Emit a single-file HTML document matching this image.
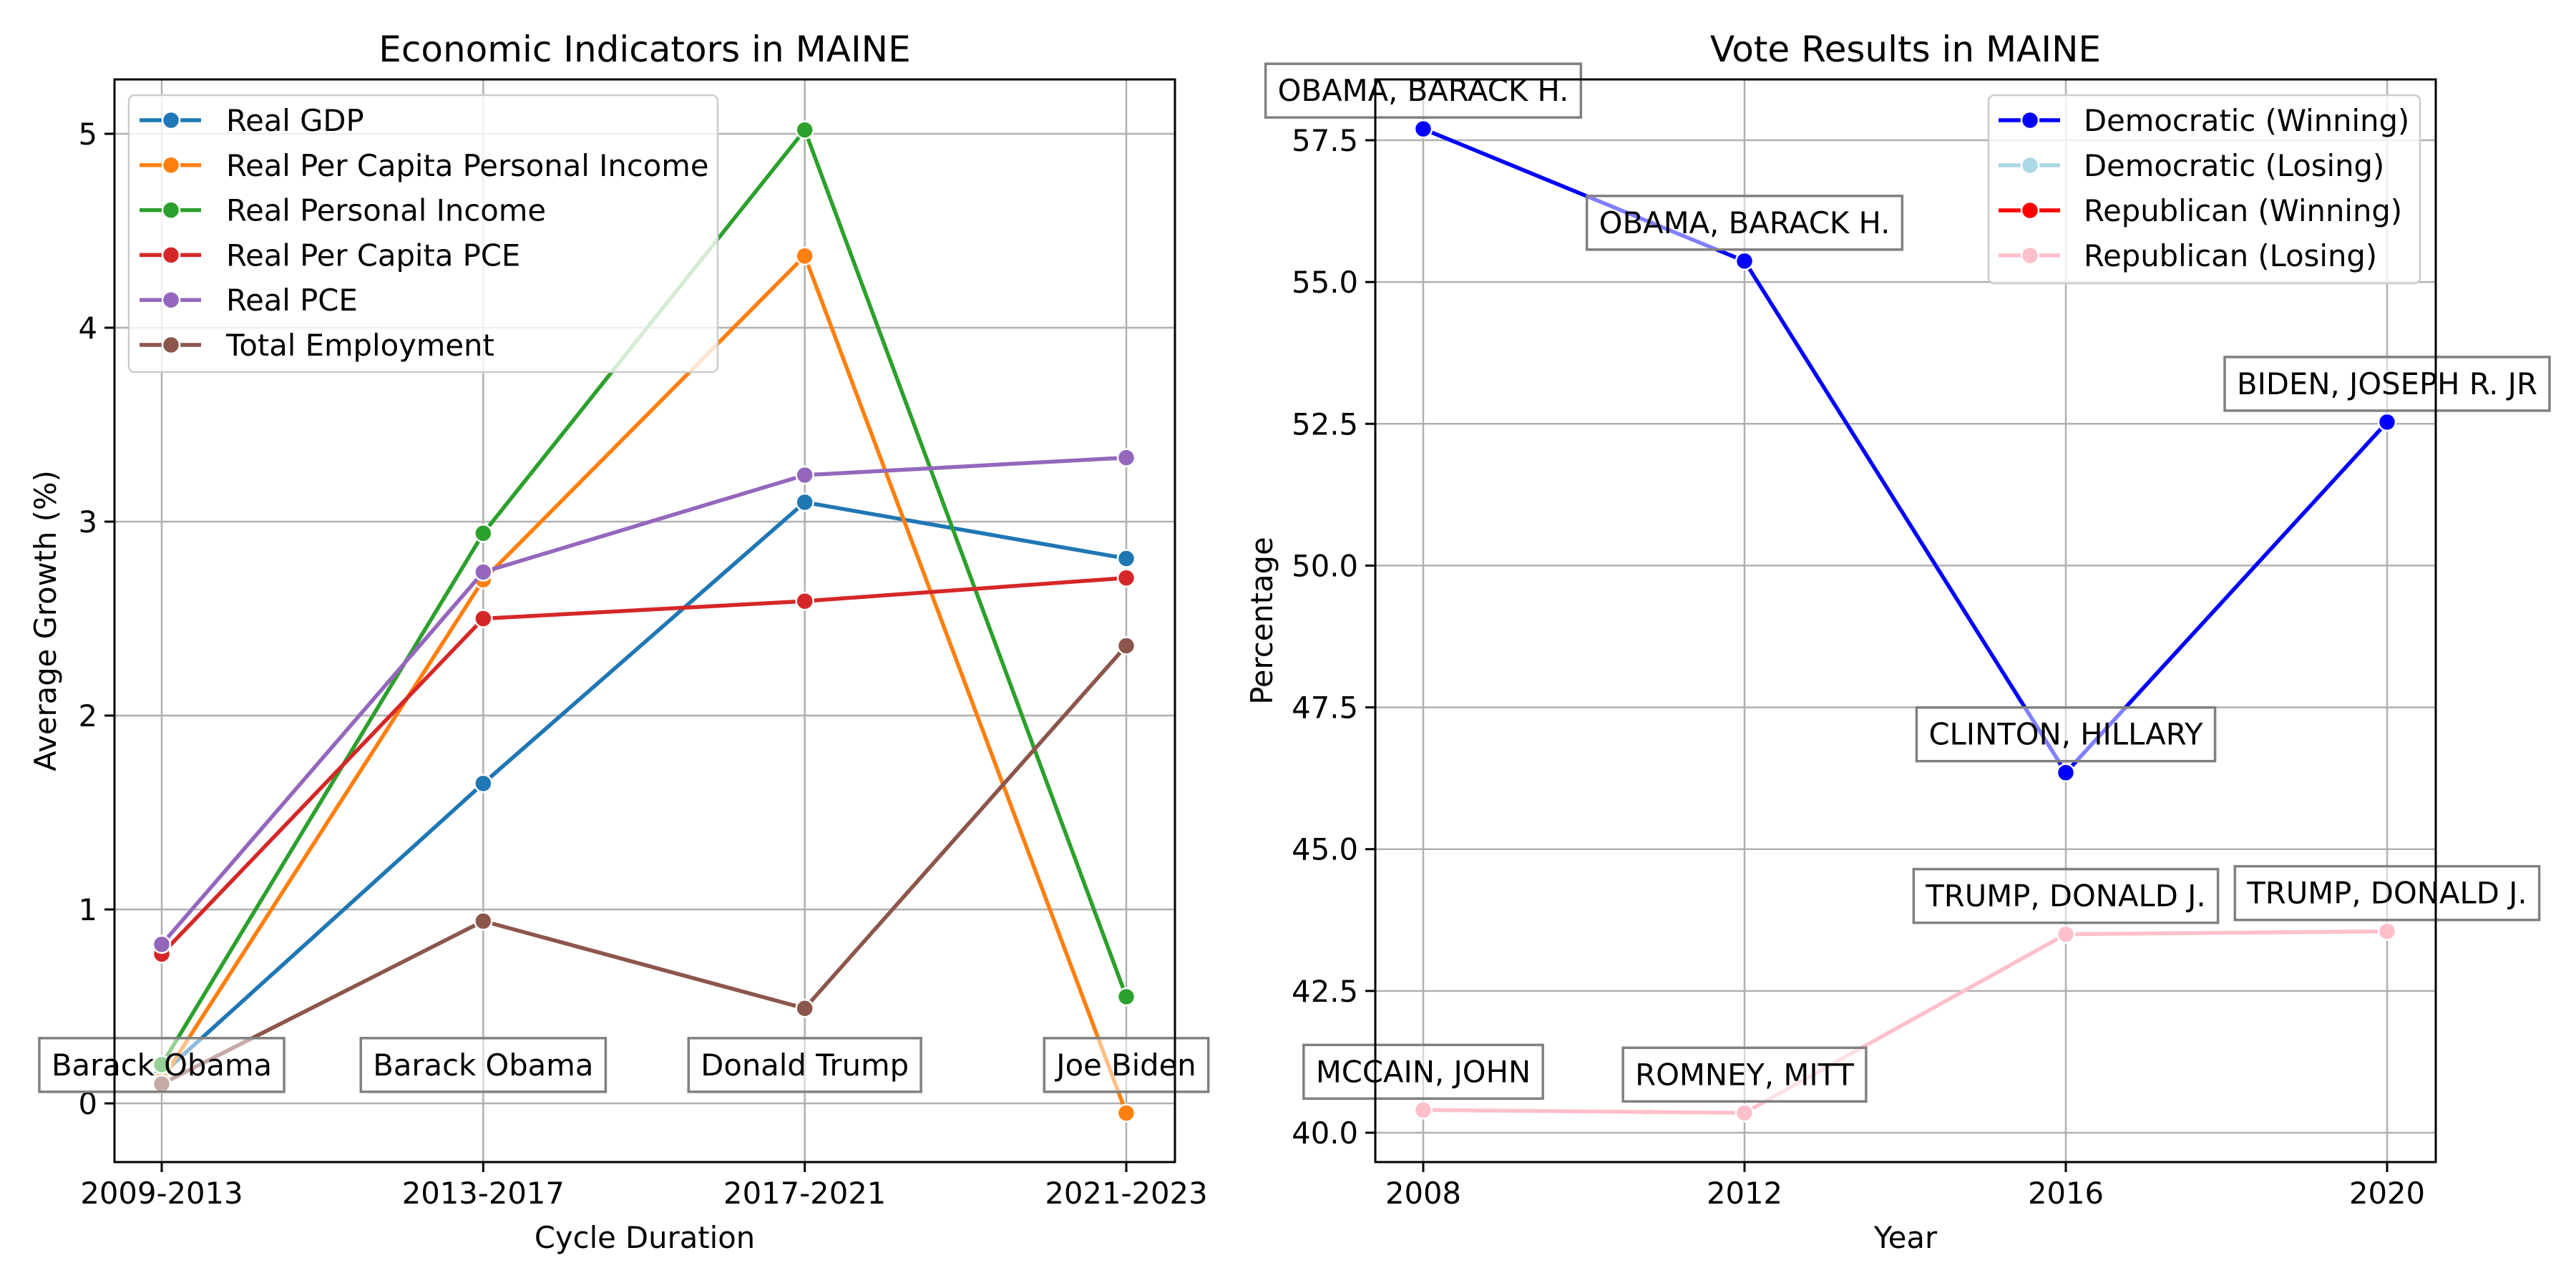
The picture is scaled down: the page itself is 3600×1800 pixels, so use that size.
<!DOCTYPE html>
<html><head><meta charset="utf-8"><style>
html,body{margin:0;padding:0;background:#fff}
svg{display:block;font-family:"DejaVu Sans","Liberation Sans",sans-serif}
</style></head><body>
<svg id="fig" width="3600" height="1800" viewBox="0 0 3600 1800" xmlns="http://www.w3.org/2000/svg">
<rect width="3600" height="1800" fill="#fff"/>
<g id="left"></g>
<g id="right"></g>
</svg>
<script>
// ---- Left chart data ----
const cycles = ["2009-2013","2013-2017","2017-2021","2021-2023"];
const presidents = ["Barack Obama","Barack Obama","Donald Trump","Joe Biden"];
const seriesNames = ["Real GDP","Real Per Capita Personal Income","Real Personal Income","Real Per Capita PCE","Real PCE","Total Employment"];
const seriesColors = ["#1f77b4","#ff7f0e","#2ca02c","#d62728","#9467bd","#8c564b"];
const realGDP = [0.15, 1.65, 3.10, 2.81];
const perCapitaPI = [0.12, 2.70, 4.37, -0.05];
const realPI = [0.20, 2.94, 5.02, 0.55];
const perCapitaPCE = [0.77, 2.50, 2.59, 2.71];
const realPCE = [0.82, 2.74, 3.24, 3.33];
const totalEmployment = [0.10, 0.94, 0.49, 2.36];
const leftTicks = [0,1,2,3,4,5];
// ---- Right chart data ----
const years = [2008, 2012, 2016, 2020];
const demValues = [57.70, 55.37, 46.35, 52.53];
const repValues = [40.40, 40.35, 43.50, 43.55];
const demNames = ["OBAMA, BARACK H.","OBAMA, BARACK H.","CLINTON, HILLARY","BIDEN, JOSEPH R. JR"];
const repNames = ["MCCAIN, JOHN","ROMNEY, MITT","TRUMP, DONALD J.","TRUMP, DONALD J."];
const rightTicks = [40.0,42.5,45.0,47.5,50.0,52.5,55.0,57.5];
const legendR = ["Democratic (Winning)","Democratic (Losing)","Republican (Winning)","Republican (Losing)"];
const legendRColors = ["#0000ff","#add8e6","#ff0000","#ffc0cb"];

const NS="http://www.w3.org/2000/svg";
const LW=5.5, MR=12;
function mk(parent, tag, attrs, text){
  const e=document.createElementNS(NS,tag);
  for(const k in attrs) e.setAttribute(k, attrs[k]);
  if(text!==undefined) e.textContent=text;
  parent.appendChild(e); return e;
}
const FS=41.7;

function frame(g, L, R, T, B){
  mk(g,'rect',{x:L,y:T,width:R-L,height:B-T,fill:'none',stroke:'#000','stroke-width':3});
}
function textBox(g, cx, cy, label, name){
  const grp=mk(g,'g',{});
  
  
  const r=mk(grp,'rect',{fill:'#fff','fill-opacity':0.5,stroke:'#808080','stroke-width':3.5});
  const t=mk(grp,'text',{x:cx,y:cy+FS*0.36,'font-size':FS,'text-anchor':'middle',fill:'#000'},label);
  const w=t.getComputedTextLength();
  r.setAttribute('x',cx-w/2-17); r.setAttribute('width',w+34);
  r.setAttribute('y',cy-37); r.setAttribute('height',75);
}

// ===== LEFT =====
(function(){
  const g=document.getElementById('left');
  const L=160,R=1642,T=111,B=1624;
  const xs=i=>226+i*(1574-226)/3;
  const ys=v=>1542-v*271;
  cycles.forEach((c,i)=>{
    const l=mk(g,'line',{x1:xs(i),x2:xs(i),y1:T,y2:B,stroke:'#b0b0b0','stroke-width':2.5});
     
    mk(g,'line',{x1:xs(i),x2:xs(i),y1:B,y2:B+14,stroke:'#000','stroke-width':3});
    const t=mk(g,'text',{x:xs(i),y:B+58,'font-size':FS,'text-anchor':'middle'},c);
     
  });
  leftTicks.forEach(v=>{
    const l=mk(g,'line',{x1:L,x2:R,y1:ys(v),y2:ys(v),stroke:'#b0b0b0','stroke-width':2.5});
     
    mk(g,'line',{x1:L-14,x2:L,y1:ys(v),y2:ys(v),stroke:'#000','stroke-width':3});
    const t=mk(g,'text',{x:L-24,y:ys(v)+15,'font-size':FS,'text-anchor':'end'},String(v));
     
  });
  const data=[realGDP,perCapitaPI,realPI,perCapitaPCE,realPCE,totalEmployment];
  data.forEach((arr,si)=>{
    const pts=arr.map((v,i)=>xs(i)+','+ys(v)).join(' ');
    const pl=mk(g,'polyline',{points:pts,fill:'none',stroke:seriesColors[si],'stroke-width':LW,'stroke-linejoin':'round'});
    
    
    arr.forEach((v,i)=>{
      const c=mk(g,'circle',{cx:xs(i),cy:ys(v),r:MR,fill:seriesColors[si],stroke:'#fff','stroke-width':2.5});
       
    });
  });
  presidents.forEach((p,i)=>textBox(g, xs(i), ys(0.2), p, 'president-annotation'));
  frame(g,L,R,T,B);
  const lg=mk(g,'g',{});
   
  mk(lg,'rect',{x:180,y:133,width:823,height:387,rx:8,fill:'#fff','fill-opacity':0.8,stroke:'#cccccc','stroke-width':2.5});
  seriesNames.forEach((n,i)=>{
    const y=168+i*62.8;
    const e=mk(lg,'g',{});
     
    mk(e,'line',{x1:195,x2:281,y1:y,y2:y,stroke:seriesColors[i],'stroke-width':LW});
    mk(e,'circle',{cx:239,cy:y,r:MR,fill:seriesColors[i],stroke:'#fff','stroke-width':2.5});
    mk(e,'text',{x:316,y:y+15,'font-size':FS},n);
  });
  const tt=mk(g,'text',{x:(L+R)/2,y:86,'font-size':50,'text-anchor':'middle'},'Economic Indicators in MAINE');
   
  const xl=mk(g,'text',{x:(L+R)/2,y:1744,'font-size':FS,'text-anchor':'middle'},'Cycle Duration');
   
  const yl=mk(g,'text',{x:0,y:0,'font-size':FS,'text-anchor':'middle',transform:'translate(78,'+((T+B)/2)+') rotate(-90)'},'Average Growth (%)');
   
})();

// ===== RIGHT =====
(function(){
  const g=document.getElementById('right');
  const L=1922,R=3404,T=111,B=1624;
  const xs=y=>1989+(y-2008)*(3336-1989)/12;
  const ys=v=>1583-(v-40)*(1583-196)/17.5;
  years.forEach(yr=>{
    const l=mk(g,'line',{x1:xs(yr),x2:xs(yr),y1:T,y2:B,stroke:'#b0b0b0','stroke-width':2.5});
     
    mk(g,'line',{x1:xs(yr),x2:xs(yr),y1:B,y2:B+14,stroke:'#000','stroke-width':3});
    const t=mk(g,'text',{x:xs(yr),y:B+58,'font-size':FS,'text-anchor':'middle'},String(yr));
     
  });
  rightTicks.forEach(v=>{
    const l=mk(g,'line',{x1:L,x2:R,y1:ys(v),y2:ys(v),stroke:'#b0b0b0','stroke-width':2.5});
     
    mk(g,'line',{x1:L-14,x2:L,y1:ys(v),y2:ys(v),stroke:'#000','stroke-width':3});
    const t=mk(g,'text',{x:L-24,y:ys(v)+15,'font-size':FS,'text-anchor':'end'},v.toFixed(1));
     
  });
  [[demValues,'#0000ff','democratic-line'],[repValues,'#ffc0cb','republican-line']].forEach(([arr,col,nm])=>{
    const pl=mk(g,'polyline',{points:arr.map((v,i)=>xs(years[i])+','+ys(v)).join(' '),fill:'none',stroke:col,'stroke-width':LW,'stroke-linejoin':'round'});
     
    arr.forEach((v,i)=>{
      const c=mk(g,'circle',{cx:xs(years[i]),cy:ys(v),r:MR,fill:col,stroke:'#fff','stroke-width':2.5});
       
    });
  });
  demValues.forEach((v,i)=>textBox(g,xs(years[i]),ys(v)-54,demNames[i],'candidate-annotation'));
  repValues.forEach((v,i)=>textBox(g,xs(years[i]),ys(v)-54,repNames[i],'candidate-annotation'));
  frame(g,L,R,T,B);
  const lg=mk(g,'g',{});
   
  mk(lg,'rect',{x:2779,y:133,width:603,height:263,rx:8,fill:'#fff','fill-opacity':0.8,stroke:'#cccccc','stroke-width':2.5});
  legendR.forEach((n,i)=>{
    const y=168+i*63;
    const e=mk(lg,'g',{});
     
    mk(e,'line',{x1:2793,x2:2879,y1:y,y2:y,stroke:legendRColors[i],'stroke-width':LW});
    mk(e,'circle',{cx:2837,cy:y,r:MR,fill:legendRColors[i],stroke:'#fff','stroke-width':2.5});
    mk(e,'text',{x:2912,y:y+15,'font-size':FS},n);
  });
  const tt=mk(g,'text',{x:(L+R)/2,y:86,'font-size':50,'text-anchor':'middle'},'Vote Results in MAINE');
   
  const xl=mk(g,'text',{x:(L+R)/2,y:1744,'font-size':FS,'text-anchor':'middle'},'Year');
   
  const yl=mk(g,'text',{x:0,y:0,'font-size':FS,'text-anchor':'middle',transform:'translate(1778,'+((T+B)/2)+') rotate(-90)'},'Percentage');
   
})();
</script>
</body></html>
